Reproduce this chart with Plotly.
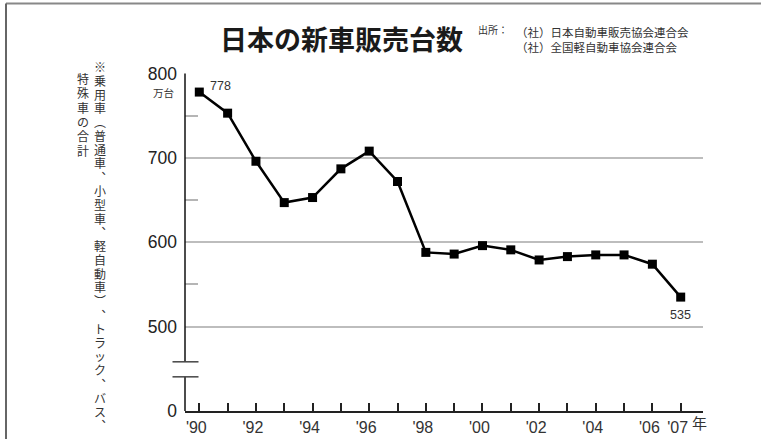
import plotly.graph_objects as go

# ---------------- data ----------------
years = list(range(1990, 2008))
sales = [778, 753, 696, 647, 653, 687, 708, 672, 588, 586,
         596, 591, 579, 583, 585, 585, 574, 535]
x_tick_labels = ["'90", "", "'92", "", "'94", "", "'96", "", "'98", "",
                 "'00", "", "'02", "", "'04", "", "'06", "'07"]
y_tickvals = [400, 500, 600, 700, 800]
y_ticktext = ["0", "500", "600", "700", "800"]
y_minor_ticks = [550, 650, 750]
axis_break = (440.5, 458.3)   # values where the broken axis gap sits

title_text = "日本の新車販売台数"
source_label = "出所："
source_lines = ["（社）日本自動車販売協会連合会", "（社）全国軽自動車協会連合会"]
unit_text = "万台"
year_unit = "年"
note_col1 = "※乗用車︵普通車︑小型車︑軽自動車︶︑トラック︑バス︑"
note_col2 = "特殊車の合計"

# ---------------- layout helpers ----------------
W, H = 761, 439
L, R, T, B = 185, 58, 73, 28
PW = W - L - R
PH = H - T - B


def px(xp):
    return (xp - L) / PW


def py(yp):
    return (H - B - yp) / PH


def vertical(text, glyph_px):
    return "<br>".join("<span style='font-size:%spx'>%s</span>" % (glyph_px, c) for c in text)


JP = "Noto Sans CJK JP"
NUM = "Liberation Sans, Noto Sans CJK JP"

fig = go.Figure()
fig.add_trace(go.Scatter(
    x=years, y=sales, mode="lines+markers",
    line=dict(color="#000000", width=2.5),
    marker=dict(symbol="square", size=9, color="#000000"),
    hoverinfo="x+y", showlegend=False,
))

shapes = []
# broken y axis
shapes.append(dict(type="line", xref="paper", yref="y", x0=0, x1=0,
                   y0=400, y1=axis_break[0], line=dict(color="#111", width=1.5)))
shapes.append(dict(type="line", xref="paper", yref="y", x0=0, x1=0,
                   y0=axis_break[1], y1=800, line=dict(color="#111", width=1.5)))
for yb in axis_break:
    shapes.append(dict(type="line", xref="paper", yref="y", x0=px(172.5), x1=px(198.5),
                       y0=yb, y1=yb, line=dict(color="#444", width=1.5)))
# frame (top + left)
shapes.append(dict(type="line", xref="paper", yref="paper", x0=px(6), x1=px(761),
                   y0=py(3.5), y1=py(3.5), line=dict(color="#888", width=2)))
shapes.append(dict(type="line", xref="paper", yref="paper", x0=px(6), x1=px(6),
                   y0=py(3.5), y1=py(439), line=dict(color="#666", width=2)))

ann = []
ann.append(dict(text=title_text, xref="paper", yref="paper", x=px(218), y=py(38),
                xanchor="left", yanchor="middle", showarrow=False,
                font=dict(family=JP, size=27, color="#1a1a1a", weight="bold")))
ann.append(dict(text=source_label, xref="paper", yref="paper", x=px(476), y=py(30),
                xanchor="left", yanchor="middle", showarrow=False,
                font=dict(family=JP, size=10, color="#333")))
ann.append(dict(text="<br>".join(source_lines), xref="paper", yref="paper",
                x=px(514), y=py(22), align="left",
                xanchor="left", yanchor="top", showarrow=False,
                font=dict(family=JP, size=11.5, color="#333")))
ann.append(dict(text=unit_text, xref="paper", yref="paper", x=px(176), y=py(93),
                xanchor="right", yanchor="middle", showarrow=False,
                font=dict(family=JP, size=10.5, color="#333")))
ann.append(dict(text=year_unit, xref="x", yref="paper", x=years[-1], y=py(422.5),
                xanchor="left", yanchor="middle", xshift=9, showarrow=False,
                font=dict(family=JP, size=15, color="#333")))
# data labels
ann.append(dict(text=str(sales[0]), xref="x", yref="y", x=years[0], y=sales[0],
                xanchor="left", yanchor="middle", xshift=9, yshift=6, showarrow=False,
                font=dict(family=NUM, size=12.5, color="#333")))
ann.append(dict(text=str(sales[-1]), xref="x", yref="y", x=years[-1], y=sales[-1],
                xanchor="center", yanchor="top", yshift=-9, showarrow=False,
                font=dict(family=NUM, size=12.5, color="#333")))
# vertical note: one upright character per line (line pitch from base size)
ann.append(dict(text=vertical(note_col1, 12), xref="paper", yref="paper",
                x=px(99.5), y=py(56), xanchor="center", yanchor="top", align="center",
                showarrow=False, font=dict(family=JP, size=10.6, color="#333")))
ann.append(dict(text=vertical(note_col2, 12), xref="paper", yref="paper",
                x=px(83.3), y=py(68), xanchor="center", yanchor="top", align="center",
                showarrow=False, font=dict(family=JP, size=11, color="#333")))

fig.update_layout(
    width=W, height=H,
    margin=dict(l=L, r=R, t=T, b=B, pad=0, autoexpand=False),
    paper_bgcolor="white", plot_bgcolor="white",
    shapes=shapes, annotations=ann,
    xaxis=dict(
        range=[1989.495, 2007.7875],
        tickvals=years, ticktext=x_tick_labels,
        ticks="inside", ticklen=8, tickwidth=1.5, tickcolor="#222",
        showline=True, linecolor="#222", linewidth=1.5,
        showgrid=False, zeroline=False, automargin=False,
        tickfont=dict(family=NUM, size=16, color="#333"),
        ticklabelshift=-3, ticklabelstandoff=1,
    ),
    yaxis=dict(
        range=[400, 800.6],
        tickvals=y_tickvals, ticktext=y_ticktext,
        showgrid=True, gridcolor="#bdbdbd", gridwidth=1.5,
        showline=False, zeroline=False, ticks="", automargin=False,
        tickfont=dict(family=NUM, size=17.5, color="#222"),
        ticklabelstandoff=7,
        minor=dict(tickvals=y_minor_ticks, ticks="inside", ticklen=13,
                   tickcolor="#b5b5b5", tickwidth=1.5, showgrid=False),
    ),
)

post = ("document.body.style.margin='0';document.body.style.padding='0';"
        "document.documentElement.style.overflow='hidden';")
fig.write_html("out.html", post_script=post, config={"displayModeBar": False})
